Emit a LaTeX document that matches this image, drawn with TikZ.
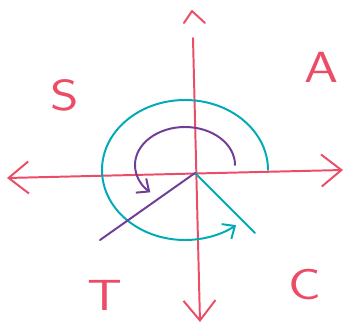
\documentclass[tikz,border=0pt]{standalone}
\usetikzlibrary{arrows.meta}

\definecolor{axispink}{RGB}{236,76,102}
\definecolor{turncyan}{RGB}{0,170,182}
\definecolor{refpurple}{RGB}{112,62,150}

\tikzset{
  pen/.style={line width=1.4pt, line cap=round, line join=round},
  bigbarb/.style={-{Straight Barb[length=5mm, width=8mm]}},
  bigbarbs/.style={{Straight Barb[length=5mm, width=8mm]}-{Straight Barb[length=5mm, width=8mm]}},
  smallbarb/.style={-{Straight Barb[length=2.5mm, width=4.4mm]}},
  quadrant/.style={text=axispink, inner sep=0pt, xscale=1.25, font=\sffamily\fontsize{31}{31}\selectfont}
}

\begin{document}
\begin{tikzpicture}[x=0.25mm, y=0.25mm]
  % viewing window (347 x 326)
  \useasboundingbox (-195,-153) rectangle (152,173);

  % axes
  \coordinate (O) at (0,0);
  \coordinate (west) at (-188,-5);
  \coordinate (east) at (148,3);
  \coordinate (north) at (-2,135);
  \coordinate (south) at (5,-149);
  \draw[pen, axispink, bigbarbs] (west) -- (east);
  \draw[pen, axispink, bigbarb] (north) -- (south);
  % loose tip above the vertical axis
  \draw[pen, axispink] (-11,150) -- (-3,162) -- (10,150);

  % quadrant letters
  \foreach \name/\px/\py/\txt in {s/-130/78/S, a/127/106/A, t/-90/-122/T, c/110/-112/C}
    \node[quadrant] (\name) at (\px,\py) {\txt};

  % rotation and terminal side
  \coordinate (tip) at (60,-60);
  \draw[pen, turncyan] (O) -- (tip);
  \draw[pen, turncyan, smallbarb] (73,3) arc[start angle=0, end angle=308, x radius=83, y radius=70];

  % reference angle
  \coordinate (ref) at (-95,-67);
  \draw[pen, refpurple] (O) -- (ref);
  \draw[pen, refpurple, smallbarb] (40,8) arc[start angle=0, end angle=226, x radius=50, y radius=38];
\end{tikzpicture}
\end{document}
